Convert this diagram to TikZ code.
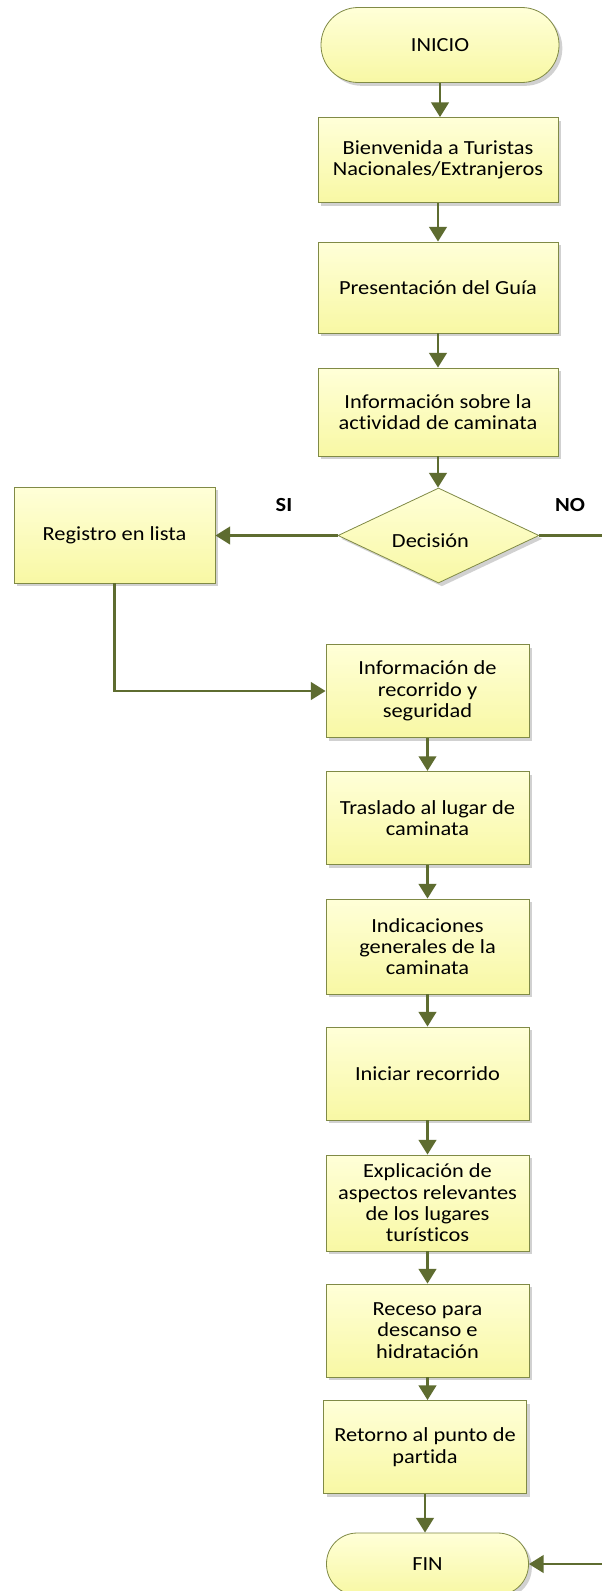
\documentclass[tikz,border=0pt]{standalone}
\usepackage{fontspec}
\setmainfont{Carlito}[FakeStretch=1.12, Ligatures=CommonOff]
\usetikzlibrary{shapes.geometric,shadows,arrows.meta}
\definecolor{arrowc}{RGB}{94,108,48}
\definecolor{edgec}{RGB}{128,138,70}
\definecolor{ytop}{RGB}{255,255,216}
\definecolor{ybot}{RGB}{248,248,164}
\tikzset{
  base/.style={draw=edgec, line width=0.6pt, top color=ytop, bottom color=ybot,
    drop shadow={shadow xshift=2.5pt, shadow yshift=-2.5pt, opacity=0.18, fill=black},
    align=center, font=\fontsize{15}{16}\selectfont, inner sep=2pt},
  procbox/.style={base, rectangle, minimum width=152.25pt, minimum height=70pt},
  widebox/.style={base, rectangle, minimum width=180pt},
  termbox/.style={base, rectangle, rounded corners=23pt},
  decbox/.style={base, diamond, inner sep=0pt, minimum width=150.75pt, minimum height=71.25pt},
  flow/.style={draw=arrowc, line width=2.2pt, -{Triangle[length=11pt,width=13pt]}},
  plainline/.style={draw=arrowc, line width=2.2pt},
  lbl/.style={font=\fontsize{15}{16}\selectfont\bfseries}
}
\begin{document}
\begin{tikzpicture}[x=0.75pt,y=-0.75pt]
\path[use as bounding box, fill=white] (0,0) rectangle (602,1591);

\node[termbox, minimum width=178.5pt, minimum height=56.25pt, rounded corners=28pt] (inicio) at (440,45) {INICIO};
\node[widebox, minimum height=63.75pt] (b1) at (438,160) {Bienvenida a Turistas\\Nacionales/Extranjeros};
\node[widebox, minimum height=68.25pt] (b2) at (438,287.5) {Presentación del Guía};
\node[widebox, minimum height=66pt] (b3) at (438,412) {Información sobre la\\actividad de caminata};
\node[decbox, label={[font=\fontsize{15}{16}\selectfont, xshift=-6pt, yshift=-4pt]center:Decisión}] (dec) at (438.5,535.5) {};
\node[procbox, minimum width=150.75pt, minimum height=72pt] (reg) at (114.5,535) {Registro en lista};
\node[procbox] (b4) at (427.5,691) {Información de\\recorrido y\\seguridad};
\node[procbox] (b5) at (427.5,818) {Traslado al lugar de\\caminata};
\node[procbox, minimum height=71.25pt] (b6) at (427.5,946.5) {Indicaciones\\generales de la\\caminata};
\node[procbox, minimum height=69.75pt] (b7) at (427.5,1073.5) {Iniciar recorrido};
\node[procbox, minimum height=72pt] (b8) at (427.5,1203) {Explicación de\\aspectos relevantes\\de los lugares\\turísticos};
\node[procbox, minimum height=69.75pt] (b9) at (427.5,1330.5) {Receso para\\descanso e\\hidratación};
\node[procbox, minimum height=69.75pt] (b10) at (425,1447) {Retorno al punto de\\partida};
\node[termbox, minimum width=151.5pt, minimum height=46.5pt] (fin) at (427.5,1564) {FIN};

\node[lbl] (si) at (284,505) {SI};
\node[lbl] (no) at (570,505) {NO};

\coordinate (noend) at (604,535.5);
\coordinate (finstart) at (604,1564);

\draw[flow] (inicio.south) -- (inicio.south |- b1.north);
\draw[flow] (b1.south) -- (b1.south |- b2.north);
\draw[flow] (b2.south) -- (b2.south |- b3.north);
\draw[flow] (b3.south) -- (b3.south |- dec.north);
\draw[flow] (dec.west) -- (dec.west -| reg.east);
\draw[plainline] (dec.east) -- (noend);
\draw[flow] (reg.south) |- (b4.west);
\draw[flow] (b4.south) -- (b4.south |- b5.north);
\draw[flow] (b5.south) -- (b5.south |- b6.north);
\draw[flow] (b6.south) -- (b6.south |- b7.north);
\draw[flow] (b7.south) -- (b7.south |- b8.north);
\draw[flow] (b8.south) -- (b8.south |- b9.north);
\draw[flow] (b9.south) -- (b9.south |- b10.north);
\draw[flow] (b10.south) -- (b10.south |- fin.north);
\draw[flow] (finstart) -- (fin.east);
\end{tikzpicture}
\end{document}
